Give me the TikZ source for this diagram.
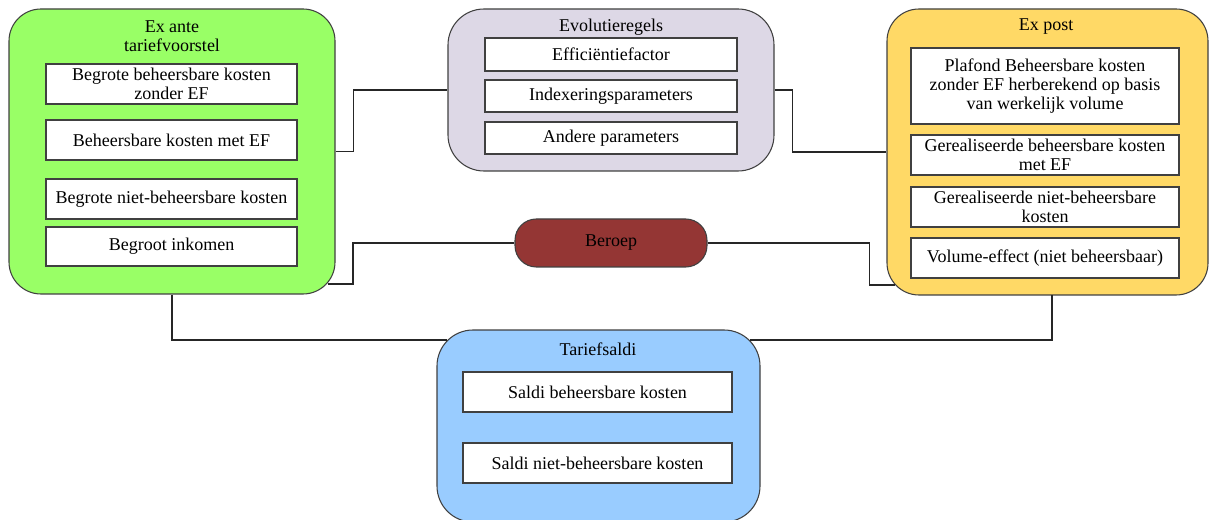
\documentclass[tikz,border=0pt]{standalone}
\usepackage{fontspec}
\setmainfont{Liberation Serif}
\definecolor{cgreen}{HTML}{99FF66}
\definecolor{cpurple}{HTML}{DDD8E6}
\definecolor{cyellow}{HTML}{FFD966}
\definecolor{cblue}{HTML}{99CCFF}
\definecolor{cbrown}{HTML}{943634}
\definecolor{cborder}{HTML}{404040}
\begin{document}
\begin{tikzpicture}[x=0.75pt,y=-0.75pt,
  container/.style={draw=cborder, line width=0.8pt, rounded corners=24pt, inner sep=0pt},
  itembox/.style={draw=cborder, fill=white, line width=0.8pt, align=center, inner sep=1pt,
    font=\fontsize{13.5}{14.5}\selectfont},
  ttl/.style={align=center, inner sep=0pt, font=\fontsize{13.5}{14.5}\selectfont},
  conn/.style={draw=black!85, line width=0.8pt}]
\useasboundingbox (0,0) rectangle (1210,520);
% containers
\node[container, fill=cgreen, minimum width=326*0.75pt, minimum height=285*0.75pt] (green) at (172,151.5) {};
\node[container, fill=cpurple, rounded corners=27pt, minimum width=326*0.75pt, minimum height=162*0.75pt] (purple) at (611,90) {};
\node[container, fill=cyellow, minimum width=321*0.75pt, minimum height=286*0.75pt] (yellow) at (1047.5,152) {};
\node[container, fill=cblue, rounded corners=27pt, minimum width=323*0.75pt, minimum height=192*0.75pt] (blue) at (598.5,426) {};
\node[container, fill=cbrown, rounded corners=16pt, minimum width=192*0.75pt, minimum height=48*0.75pt, ttl] (beroep) at (611,243) {Beroep};
% titles
\node[ttl] (gt) at (172,36) {Ex ante\\tariefvoorstel};
\node[ttl] (pt) at (611,27) {Evolutieregels};
\node[ttl] (yt) at (1046,27) {Ex post};
\node[ttl] (bt) at (598,349) {Tariefsaldi};
% green items
\node[itembox, minimum width=251*0.75pt, minimum height=40*0.75pt] (g1) at (171.5,84) {Begrote beheersbare kosten\\zonder EF};
\node[itembox, minimum width=251*0.75pt, minimum height=40*0.75pt] (g2) at (171.5,140) {Beheersbare kosten met EF};
\node[itembox, minimum width=251*0.75pt, minimum height=40*0.75pt] (g3) at (171.5,199) {Begrote niet-beheersbare kosten};
\node[itembox, minimum width=251*0.75pt, minimum height=39*0.75pt] (g4) at (171.5,246.5) {Begroot inkomen};
% purple items
\node[itembox, minimum width=252*0.75pt, minimum height=33*0.75pt] (p1) at (611,54.5) {Efficiëntiefactor};
\node[itembox, minimum width=252*0.75pt, minimum height=32*0.75pt] (p2) at (611,96) {Indexeringsparameters};
\node[itembox, minimum width=252*0.75pt, minimum height=32*0.75pt] (p3) at (611,138) {Andere parameters};
% yellow items
\node[itembox, minimum width=268*0.75pt, minimum height=76*0.75pt] (y1) at (1045,86) {Plafond Beheersbare kosten\\zonder EF herberekend op basis\\van werkelijk volume};
\node[itembox, minimum width=268*0.75pt, minimum height=40*0.75pt] (y2) at (1045,155) {Gerealiseerde beheersbare kosten\\met EF};
\node[itembox, minimum width=268*0.75pt, minimum height=40*0.75pt] (y3) at (1045,207) {Gerealiseerde niet-beheersbare\\kosten};
\node[itembox, minimum width=268*0.75pt, minimum height=40*0.75pt] (y4) at (1045,258) {Volume-effect (niet beheersbaar)};
% blue items
\node[itembox, minimum width=269*0.75pt, minimum height=40*0.75pt] (b1) at (597.5,392) {Saldi beheersbare kosten};
\node[itembox, minimum width=269*0.75pt, minimum height=40*0.75pt] (b2) at (597.5,463) {Saldi niet-beheersbare kosten};
% connector endpoints on rounded corners
\coordinate (gA) at (328,284);
\coordinate (yB) at (895,285);
\coordinate (bL) at (447,340);
\coordinate (bR) at (750,340);
\coordinate (yS) at (1052,295);
% connectors
\draw[conn] (green.east) -- ++(18,0) |- (purple.west);
\draw[conn] (purple.east) -- ++(18,0) |- (yellow.west);
\draw[conn] (gA) -- ++(25,0) |- (beroep.west);
\draw[conn] (beroep.east) -- ++(162,0) |- (yB);
\draw[conn] (green.south) |- (bL);
\draw[conn] (yS) |- (bR);
\end{tikzpicture}
\end{document}
